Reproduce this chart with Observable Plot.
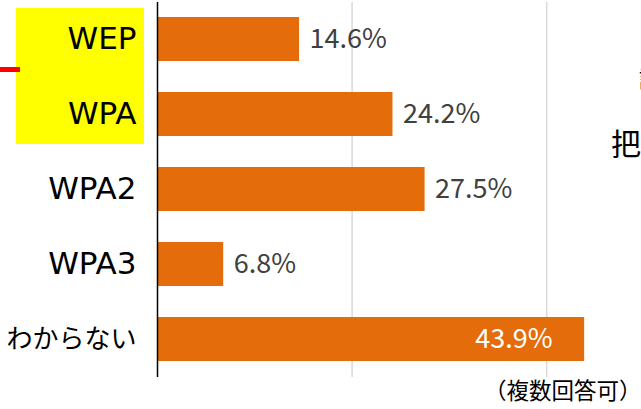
<!DOCTYPE html>
<html>
<head>
<meta charset="utf-8">
<script src="https://cdn.jsdelivr.net/npm/d3@7"></script>
<script src="https://cdn.jsdelivr.net/npm/@observablehq/plot@0.6"></script>
<style>
  html, body { margin: 0; padding: 0; background: #fff; }
  #wrap { position: relative; width: 641px; height: 409px; overflow: hidden; font-family: "Noto Sans CJK JP", "Noto Sans", sans-serif; }
  #hl { position: absolute; left: 16px; top: 8px; width: 128px; height: 136px; background: #ffff00; z-index: 0; }
  #redline { position: absolute; left: 0; top: 67px; width: 20px; height: 5px; background: #ff0000; z-index: 0; }
  #side1 { position: absolute; left: 611px; top: 122px; font-size: 30px; line-height: 40px; color: #000; white-space: nowrap; z-index: 0; }
  #side2 { position: absolute; left: 639px; top: 60px; font-size: 22px; line-height: 34px; color: #000; white-space: nowrap; z-index: 0; }
  #chart { position: absolute; left: 0; top: 0; z-index: 1; }
</style>
</head>
<body>
<div id="wrap">
  <div id="hl"></div>
  <div id="redline"></div>
  <div id="side1">把</div>
  <div id="side2">調</div>
  <div id="chart"></div>
</div>
<script>
const categories = ["WEP", "WPA", "WPA2", "WPA3", "わからない"];
const values = [14.6, 24.2, 27.5, 6.8, 43.9];
const gridTicks = [20, 40];
const caption = "（複数回答可）";

const data = categories.map((c, i) => ({category: c, value: values[i]}));
const fmt = v => v.toFixed(1) + "%";
const font = "'Noto Sans CJK JP', 'Noto Sans', sans-serif";
const labelFont = "'DejaVu Sans', 'Noto Sans CJK JP', sans-serif";

const chart = Plot.plot({
  width: 641,
  height: 409,
  marginLeft: 157,
  marginRight: 0,
  marginTop: 2,
  marginBottom: 32,
  style: {background: "transparent", fontFamily: font},
  x: {domain: [0, 50], range: [157, 643.5], axis: null},
  y: {domain: categories, range: [2, 377], paddingInner: 0.41, paddingOuter: 0.205, axis: null},
  marks: [
    Plot.ruleX(gridTicks, {stroke: "#d9d9d9", strokeWidth: 1.5}),
    Plot.barX(data, {x: "value", y: "category", fill: "#E46C0A"}),
    Plot.ruleX([0], {stroke: "#000", strokeWidth: 1.5}),
    Plot.text(data, {y: "category", text: "category", frameAnchor: "left", textAnchor: "end", dx: -21,
      fontSize: d => /^[A-Z0-9]+$/.test(d.category) ? 31 : 26, fontFamily: labelFont, fill: "#000"}),
    Plot.text(data.filter(d => d.value < 40), {x: "value", y: "category", text: d => fmt(d.value), textAnchor: "start", dx: 10, fontSize: 27, fill: "#404040"}),
    Plot.text(data.filter(d => d.value >= 40), {x: "value", y: "category", text: d => fmt(d.value), textAnchor: "end", dx: -32, fontSize: 27, fill: "#ffffff"}),
    Plot.text([caption], {text: d => d, frameAnchor: "bottom-right", textAnchor: "end", lineAnchor: "middle", dx: 0, dy: 14, fontSize: 22.5, fill: "#000"})
  ]
});
document.getElementById("chart").appendChild(chart);
</script>
</body>
</html>
